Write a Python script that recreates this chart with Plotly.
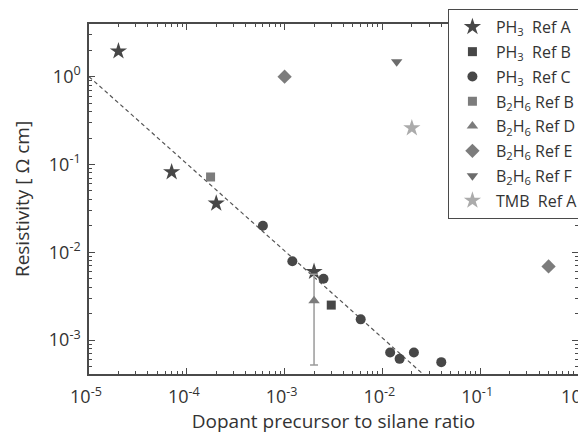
import plotly.graph_objects as go

# ---- data ----
ph3_a_x = [2e-5, 7e-5, 2e-4, 2e-3]
ph3_a_y = [1.95, 0.082, 0.036, 0.006]

ph3_b_x = [3e-3]
ph3_b_y = [2.5e-3]

ph3_c_x = [6e-4, 1.2e-3, 2.5e-3, 6e-3, 0.012, 0.015, 0.021, 0.040]
ph3_c_y = [0.020, 0.0079, 0.005, 1.72e-3, 7.2e-4, 6.1e-4, 7.2e-4, 5.6e-4]

b2h6_b_x = [1.75e-4]
b2h6_b_y = [0.072]

b2h6_d_x = [2e-3]
b2h6_d_y = [2.8e-3]
b2h6_d_err_plus = [2.8e-3]
b2h6_d_err_minus = [2.28e-3]

b2h6_e_x = [1e-3, 0.5]
b2h6_e_y = [1.0, 6.9e-3]

b2h6_f_x = [0.014]
b2h6_f_y = [1.48]

tmb_a_x = [0.02]
tmb_a_y = [0.26]

fit_x = [1e-5, 0.03]
fit_y = [1.0, 3.55e-4]

x_tickvals = [1e-5, 1e-4, 1e-3, 1e-2, 1e-1, 1]
x_ticktext = ["10<sup>-5</sup>", "10<sup>-4</sup>", "10<sup>-3</sup>",
              "10<sup>-2</sup>", "10<sup>-1</sup>", "10<sup>0</sup>"]
y_tickvals = [1e-3, 1e-2, 1e-1, 1]
y_ticktext = ["10<sup>-3</sup>", "10<sup>-2</sup>", "10<sup>-1</sup>", "10<sup>0</sup>"]

minor_mult = [2, 3, 4, 5, 6, 7, 8, 9]
x_minor = [m * 10.0 ** e for e in range(-5, 0) for m in minor_mult]
y_minor = [m * 10.0 ** e for e in range(-4, 1) for m in minor_mult]

DARK = "#474747"
MID = "#7c7c7c"
LIGHT = "#ababab"
FONT = "Open Sans"
TXT = "#333333"

fig = go.Figure()

fig.add_trace(go.Scatter(x=fit_x, y=fit_y, mode="lines",
                         line=dict(color="#555555", width=1.2, dash="4px,3px"),
                         showlegend=False, hoverinfo="skip"))

def add(x, y, name, symbol, color, size, group, **kw):
    fig.add_trace(go.Scatter(x=x, y=y, mode="markers", name=name,
                             legendgroup=group,
                             marker=dict(symbol=symbol, color=color, size=size,
                                         line=dict(width=0)), **kw))

add(ph3_a_x, ph3_a_y, "PH<sub>3</sub>  Ref A", "star", DARK, 13, "g1")
add(ph3_b_x, ph3_b_y, "PH<sub>3</sub>  Ref B", "square", DARK, 9, "g2")
add(ph3_c_x, ph3_c_y, "PH<sub>3</sub>  Ref C", "circle", DARK, 10, "g3")
add(b2h6_b_x, b2h6_b_y, "B<sub>2</sub>H<sub>6</sub> Ref B", "square", MID, 9, "g4")
add(b2h6_d_x, b2h6_d_y, "B<sub>2</sub>H<sub>6</sub> Ref D", "triangle-up", MID, 10, "g5",
    error_y=dict(type="data", array=b2h6_d_err_plus, arrayminus=b2h6_d_err_minus,
                 color="#9a9a9a", thickness=1.5, width=4))
add(b2h6_e_x, b2h6_e_y, "B<sub>2</sub>H<sub>6</sub> Ref E", "diamond", MID, 11, "g6")
add(b2h6_f_x, b2h6_f_y, "B<sub>2</sub>H<sub>6</sub> Ref F", "triangle-down", "#6c6c6c", 10, "g7")
add(tmb_a_x, tmb_a_y, "TMB  Ref A", "star", LIGHT, 13, "g8")

def axis(tickvals, ticktext, minor_vals, title, rng, standoff, lblstand, shift):
    return dict(
        type="log", range=rng, showgrid=False, zeroline=False,
        showline=True, linecolor="#4a4a4a", linewidth=1.5, mirror="allticks",
        tickmode="array", tickvals=tickvals, ticktext=ticktext,
        ticks="inside", ticklen=6, tickwidth=1.2, tickcolor="#4a4a4a",
        ticklabelstandoff=lblstand, ticklabelshift=shift, ticklabeloverflow="allow",
        minor=dict(tickmode="array", tickvals=minor_vals, ticks="inside",
                   ticklen=3, tickwidth=1, tickcolor="#4a4a4a", showgrid=False),
        tickfont=dict(family=FONT, size=18, color=TXT),
        title=dict(text=title, font=dict(family=FONT, size=19, color=TXT), standoff=standoff),
    )

# the page body adds an 8px offset, so the figure is sized to fit the window
fig.update_layout(
    width=578, height=427,
    margin=dict(l=81, r=8, t=16, b=61, autoexpand=False),
    paper_bgcolor="white", plot_bgcolor="white",
    font=dict(family=FONT, color=TXT),
    xaxis=axis(x_tickvals, x_ticktext, x_minor, "Dopant precursor to silane ratio",
               [-5, 0], 3, 6, -3),
    yaxis=axis(y_tickvals, y_ticktext, y_minor, "Resistivity [ Ω cm]",
               [-3.387, 0.6], 14, 3, 0),
    legend=dict(x=0.734, y=1.043, xanchor="left", yanchor="top",
                bgcolor="white", bordercolor="#4a4a4a", borderwidth=1,
                font=dict(family=FONT, size=16, color=TXT),
                tracegroupgap=1, itemsizing="trace", itemwidth=37),
    showlegend=True,
)

fig.write_html("out.html")
